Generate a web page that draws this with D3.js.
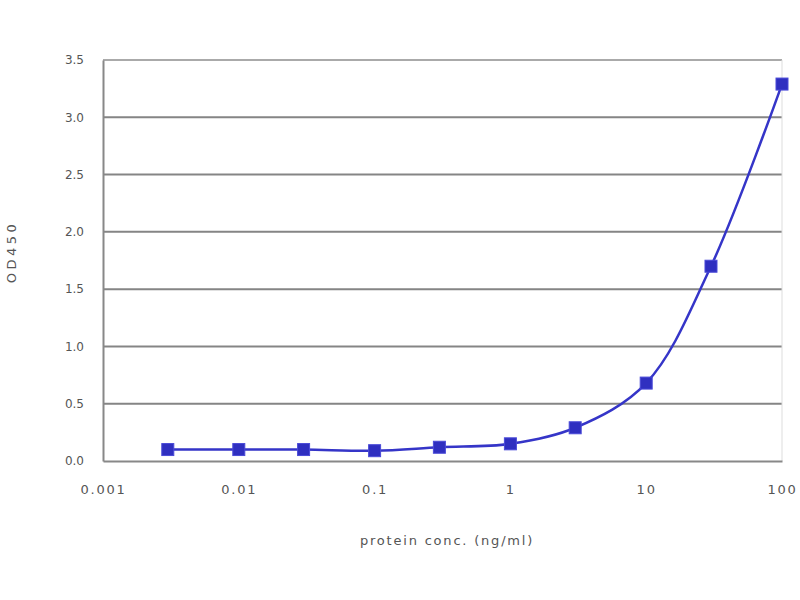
<!DOCTYPE html>
<html><head><meta charset="utf-8">
<script src="https://cdn.jsdelivr.net/npm/d3@7"></script>
<style>body{margin:0;background:#fff;} text{font-family:"DejaVu Sans",sans-serif;}</style>
</head><body>
<svg id="c" width="800" height="600"></svg>
<script>
const conc = [0.003, 0.01, 0.03, 0.1, 0.3, 1, 3, 10, 30, 100];
const od = [0.10, 0.10, 0.10, 0.09, 0.12, 0.15, 0.29, 0.68, 1.70, 3.29];
const xTicks = [0.001, 0.01, 0.1, 1, 10, 100];
const xTickLabels = ["0.001", "0.01", "0.1", "1", "10", "100"];
const yTicks = [0, 0.5, 1, 1.5, 2, 2.5, 3, 3.5];

const svg = d3.select("#c");
const L = 103, R = 782, T = 60, B = 461;
const x = d3.scaleLog().domain([0.001, 100]).range([L, R]);
const y = d3.scaleLinear().domain([0, 3.5]).range([B, T]);

// gridlines
svg.append("g").selectAll("line").data(yTicks.filter(d => d > 0)).join("line")
  .attr("x1", L).attr("x2", R).attr("y1", d => y(d)).attr("y2", d => y(d))
  .attr("stroke", d => d === 3.5 ? "#aaa" : "#858585").attr("stroke-width", 2);
// right border
svg.append("line").attr("x1", R).attr("x2", R).attr("y1", T).attr("y2", B)
  .attr("stroke", "#ddd").attr("stroke-width", 1);

// axes
const yAxis = d3.axisLeft(y).tickValues(yTicks).tickFormat(d3.format(".1f")).tickSize(0).tickPadding(19);
const gy = svg.append("g").attr("transform", `translate(${L},0)`).call(yAxis);
gy.select(".domain").attr("stroke", "#888").attr("stroke-width", 2);
gy.selectAll("text").attr("fill", "#555").style("font-size", "12px");

const xAxis = d3.axisBottom(x).tickValues(xTicks).tickFormat((d, i) => xTickLabels[i]).tickSize(0).tickPadding(24);
const gx = svg.append("g").attr("transform", `translate(0,${B})`).call(xAxis);
gx.select(".domain").attr("stroke", "#888").attr("stroke-width", 2);
gx.selectAll("text").attr("fill", "#555").style("font-size", "13px").style("letter-spacing", "1.8px");

// labels
svg.append("text").attr("x", 447).attr("y", 545).attr("text-anchor", "middle")
  .attr("fill", "#555").style("font-size", "13px").style("letter-spacing", "1.8px").text("protein conc. (ng/ml)");
svg.append("text").attr("transform", "translate(16,252) rotate(-90)").attr("text-anchor", "middle")
  .attr("fill", "#555").style("font-size", "13px").style("letter-spacing", "3.5px").text("OD450");

// line
const data = conc.map((c, i) => [c, od[i]]);
const line = d3.line().x(d => x(d[0])).y(d => y(d[1])).curve(d3.curveCatmullRom.alpha(0.5));
svg.append("path").datum(data).attr("d", line).attr("fill", "none")
  .attr("stroke", "#3535c8").attr("stroke-width", 2.5);

// markers
svg.append("g").selectAll("rect").data(data).join("rect")
  .attr("x", d => x(d[0]) - 6).attr("y", d => y(d[1]) - 6)
  .attr("width", 12).attr("height", 12)
  .attr("fill", "#2f2fc0").attr("stroke", "#4a4ad8").attr("stroke-width", 1);
</script>
</body></html>
